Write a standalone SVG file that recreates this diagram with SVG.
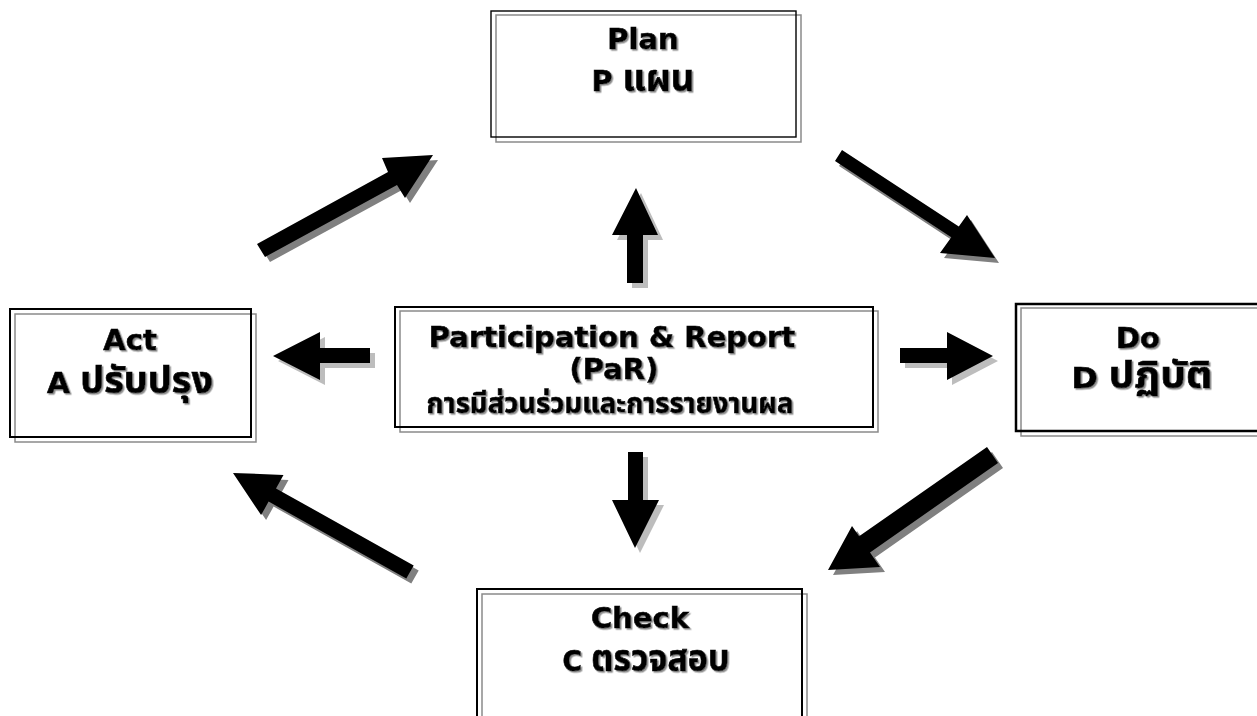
<svg xmlns="http://www.w3.org/2000/svg" xmlns:xlink="http://www.w3.org/1999/xlink" width="1257" height="716" viewBox="0 0 1257 716">
  <style>
    .frame { fill: none; stroke: #000; stroke-width: 2; }
    .frame-shadow { fill: none; stroke: #8a8a8a; stroke-width: 1.5; }
    .label { font-family: "DejaVu Sans", "Noto Sans", "Noto Sans Thai", "Noto Sans CJK SC", sans-serif; font-weight: bold; font-size: 29px; fill: #000; stroke: #000; stroke-width: 0.6; text-anchor: middle; filter: url(#textShadow); }
    .th { font-size: 37px; }
    .th-small { font-size: 29px; }
    .arrow { fill: #000; }
    .shadow-dark { fill: #808080; }
    .shadow-light { fill: #bdbdbd; }
  </style>
  <defs>
    <filter id="textShadow" x="-10%" y="-20%" width="130%" height="150%">
      <feDropShadow dx="1.5" dy="1.5" stdDeviation="0.4" flood-color="#8c8c8c" flood-opacity="1"/>
    </filter>
    <!-- block arrow outlines, reused for the shadow and the solid arrow -->
    <polygon id="arrowUL" points="257,244 388,172 382,158 433,155 405,198 397,185 265,257"/>
    <polygon id="arrowUR" points="842,150 958.8,226.5 967,215 995,258 940,253 951.3,237.2 835,161"/>
    <polygon id="arrowLR" points="987,447 859.1,536.3 852,526 828,570 880,567 870,552.4 998,463"/>
    <polygon id="arrowLL" points="413.7,565.4 276,488.4 283.5,474.9 233,473 261.1,515.1 268.6,501.6 406.3,578.6"/>
    <polygon id="arrowUp" points="627,283 627,235 612,235 636,188 658,235 643,235 643,283"/>
    <polygon id="arrowDown" points="628,452 643,452 643,500 659,500 635,548 612,500 628,500"/>
    <polygon id="arrowLeft" points="370,348 320,348 320,332 273,356 320,380 320,363 370,363"/>
    <polygon id="arrowRight" points="900,348 947,348 947,332 993,356 947,380 947,363 900,363"/>
  </defs>

  <g id="connectors">
    <use xlink:href="#arrowUL" class="shadow-dark" transform="translate(5,5)"/>
    <use xlink:href="#arrowUL" class="arrow"/>
    <use xlink:href="#arrowUR" class="shadow-dark" transform="translate(4,5)"/>
    <use xlink:href="#arrowUR" class="arrow"/>
    <use xlink:href="#arrowLR" class="shadow-dark" transform="translate(5,5)"/>
    <use xlink:href="#arrowLR" class="arrow"/>
    <use xlink:href="#arrowLL" class="shadow-dark" transform="translate(5,5)"/>
    <use xlink:href="#arrowLL" class="arrow"/>
    <use xlink:href="#arrowUp" class="shadow-light" transform="translate(5,5)"/>
    <use xlink:href="#arrowUp" class="arrow"/>
    <use xlink:href="#arrowDown" class="shadow-light" transform="translate(5,5)"/>
    <use xlink:href="#arrowDown" class="arrow"/>
    <use xlink:href="#arrowLeft" class="shadow-light" transform="translate(5,5)"/>
    <use xlink:href="#arrowLeft" class="arrow"/>
    <use xlink:href="#arrowRight" class="shadow-light" transform="translate(5,5)"/>
    <use xlink:href="#arrowRight" class="arrow"/>
  </g>

  <g id="plan">
    <rect class="frame-shadow" x="496" y="15" width="305" height="127"/>
    <rect class="frame" x="491" y="11" width="305" height="126" style="stroke-width:1.4"/>
    <text class="label" x="643" y="49">Plan</text>
    <text class="label" x="643" y="91" textLength="103" lengthAdjust="spacingAndGlyphs">P <tspan class="th">แผน</tspan></text>
  </g>

  <g id="act">
    <rect class="frame-shadow" x="15" y="314" width="241" height="128"/>
    <rect class="frame" x="10" y="309" width="241" height="128"/>
    <text class="label" x="130" y="350">Act</text>
    <text class="label" x="130" y="393" textLength="166" lengthAdjust="spacingAndGlyphs">A <tspan class="th">ปรับปรุง</tspan></text>
  </g>

  <g id="par">
    <rect class="frame-shadow" x="400" y="311" width="478" height="121"/>
    <rect class="frame" x="395" y="307" width="478" height="120"/>
    <text class="label" x="612" y="347">Participation &amp; Report</text>
    <text class="label" x="614" y="379">(PaR)</text>
    <text class="label th-small" x="610" y="413" textLength="367" lengthAdjust="spacingAndGlyphs">การมีส่วนร่วมและการรายงานผล</text>
  </g>

  <g id="do">
    <rect class="frame-shadow" x="1021" y="308" width="250" height="128"/>
    <rect class="frame" x="1016" y="304" width="250" height="127" style="stroke-width:2.5"/>
    <text class="label" x="1138" y="348">Do</text>
    <text class="label" x="1142" y="388" textLength="141" lengthAdjust="spacingAndGlyphs">D <tspan class="th">ปฏิบัติ</tspan></text>
  </g>

  <g id="check">
    <rect class="frame-shadow" x="482" y="594" width="325" height="140"/>
    <rect class="frame" x="477" y="589" width="325" height="140"/>
    <text class="label" x="640" y="628">Check</text>
    <text class="label" x="646" y="671" textLength="167" lengthAdjust="spacingAndGlyphs">C <tspan class="th">ตรวจสอบ</tspan></text>
  </g>
</svg>
